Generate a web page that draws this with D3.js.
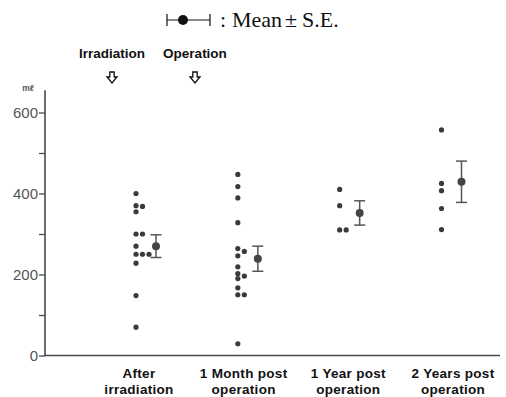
<!DOCTYPE html>
<html><head><meta charset="utf-8">
<script src="https://cdn.jsdelivr.net/npm/d3@7"></script>
<style>body{margin:0;background:#fff}svg{display:block}</style>
</head><body>
<script>
const categories = ["After irradiation", "1 Month post operation", "1 Year post operation", "2 Years post operation"];
const categoryLines = [["After", "irradiation"], ["1 Month post", "operation"], ["1 Year post", "operation"], ["2 Years post", "operation"]];
const afterIrradiation = [400, 370, 368, 355, 300, 300, 270, 250, 250, 250, 228, 148, 70];
const oneMonthPost = [447, 417, 389, 328, 264, 257, 246, 219, 202, 196, 190, 167, 150, 150, 29];
const oneYearPost = [410, 370, 310, 310];
const twoYearsPost = [557, 425, 407, 363, 311];
const groupValues = [afterIrradiation, oneMonthPost, oneYearPost, twoYearsPost];
const means = [270, 239, 352, 429];
const standardErrors = [28, 31, 30, 51];
const yTicks = [0, 100, 200, 300, 400, 500, 600];
const yTickLabels = ["0", "", "200", "", "400", "", "600"];
const events = ["Irradiation", "Operation"];

const W = 506, H = 397;
const svg = d3.select("body").append("svg").attr("width", W).attr("height", H);
const ink = "#4a4a4a";

const y = d3.scaleLinear().domain([0, 600]).range([355.5, 112.5]);
const xMarks = d3.scalePoint().domain(categories).range([136, 441.5]);
const xLabels = d3.scalePoint().domain(categories).range([139, 453]);
const xEvents = d3.scalePoint().domain(events).range([112, 195]);

// axes
svg.append("line").attr("x1", 45).attr("x2", 45).attr("y1", y(0)).attr("y2", y(655))
  .attr("stroke", ink).attr("stroke-width", 1.6);
svg.append("line").attr("x1", 44).attr("x2", 500).attr("y1", y(0)).attr("y2", y(0))
  .attr("stroke", ink).attr("stroke-width", 1.6);

const yAxis = d3.axisLeft(y).tickValues(yTicks).tickSize(6).tickPadding(1)
  .tickFormat((d, i) => yTickLabels[i]);
const gy = svg.append("g").attr("transform", "translate(45,0)").call(yAxis);
gy.select(".domain").remove();
gy.selectAll(".tick line").attr("stroke", ink).attr("stroke-width", 1.3);
gy.selectAll(".tick text").attr("font-family", "Liberation Sans, Arial, sans-serif")
  .attr("font-size", 15).attr("fill", "#555").attr("dy", "0.36em");

svg.append("text").attr("x", 28).attr("y", 91).attr("text-anchor", "middle")
  .attr("font-family", "Liberation Sans, Arial, sans-serif").attr("font-size", 8.5)
  .attr("font-weight", "bold").attr("fill", "#555").text("mℓ");

// category labels
const gl = svg.append("g");
categories.forEach((c, i) => {
  const t = gl.append("text").attr("x", xLabels(c)).attr("text-anchor", "middle")
    .attr("font-family", "Liberation Sans, Arial, sans-serif").attr("font-size", 13.5)
    .attr("font-weight", "bold").attr("fill", "#111").attr("letter-spacing", 0.3);
  t.append("tspan").attr("x", xLabels(c)).attr("y", 378).text(categoryLines[i][0]);
  t.append("tspan").attr("x", xLabels(c)).attr("y", 394).text(categoryLines[i][1]);
});

// dots with side-by-side placement for overlaps
const colGap = 6.5, r = 2.6;
groupValues.forEach((vals, gi) => {
  const placed = [];
  vals.forEach(v => {
    let col = 0;
    while (placed.some(p => p.col === col && Math.abs(y(p.v) - y(v)) < 4.6)) col++;
    placed.push({ v, col });
  });
  svg.append("g").selectAll("circle").data(placed).join("circle")
    .attr("cx", d => xMarks(categories[gi]) + d.col * colGap)
    .attr("cy", d => y(d.v)).attr("r", r).attr("fill", "#3a3a3a");
});

// mean ± SE
const meanOffset = 20, cap = 5.5;
categories.forEach((c, i) => {
  const cx = xMarks(c) + meanOffset;
  const g = svg.append("g").attr("stroke", "#555").attr("stroke-width", 1.5);
  g.append("line").attr("x1", cx).attr("x2", cx).attr("y1", y(means[i] + standardErrors[i])).attr("y2", y(means[i] - standardErrors[i]));
  g.append("line").attr("x1", cx - cap).attr("x2", cx + cap).attr("y1", y(means[i] + standardErrors[i])).attr("y2", y(means[i] + standardErrors[i]));
  g.append("line").attr("x1", cx - cap).attr("x2", cx + cap).attr("y1", y(means[i] - standardErrors[i])).attr("y2", y(means[i] - standardErrors[i]));
  svg.append("circle").attr("cx", cx).attr("cy", y(means[i])).attr("r", 4).attr("fill", "#444");
});

// event annotations
events.forEach(e => {
  const ex = xEvents(e);
  svg.append("text").attr("x", ex).attr("y", 58).attr("text-anchor", "middle")
    .attr("font-family", "Liberation Sans, Arial, sans-serif").attr("font-size", 13.5)
    .attr("font-weight", "bold").attr("fill", "#111").text(e);
  const top = 72, h = 11, sw = 2.2, hw = 5;
  const p = `M${ex - sw},${top} L${ex + sw},${top} L${ex + sw},${top + 5} L${ex + hw},${top + 5} L${ex},${top + h} L${ex - hw},${top + 5} L${ex - sw},${top + 5} Z`;
  svg.append("path").attr("d", p).attr("fill", "none").attr("stroke", "#111").attr("stroke-width", 1.3)
    .attr("stroke-linejoin", "miter");
});

// legend
const lg = svg.append("g");
const ly = 20, lx0 = 167, lx1 = 210;
lg.append("line").attr("x1", lx0).attr("x2", lx1).attr("y1", ly).attr("y2", ly).attr("stroke", "#111").attr("stroke-width", 1.2);
lg.append("line").attr("x1", lx0).attr("x2", lx0).attr("y1", ly - 6).attr("y2", ly + 6).attr("stroke", "#111").attr("stroke-width", 1.2);
lg.append("line").attr("x1", lx1).attr("x2", lx1).attr("y1", ly - 6).attr("y2", ly + 6).attr("stroke", "#111").attr("stroke-width", 1.2);
lg.append("circle").attr("cx", 183).attr("cy", ly).attr("r", 5).attr("fill", "#111");
const lt = lg.append("text").attr("y", 27).attr("font-family", "Liberation Serif, Times New Roman, serif")
  .attr("font-size", 22).attr("fill", "#111");
lt.append("tspan").attr("x", 220).text(":");
lt.append("tspan").attr("x", 232).text("Mean");
lt.append("tspan").attr("x", 285).text("±");
lt.append("tspan").attr("x", 302).text("S.E.");
</script>
</body></html>
